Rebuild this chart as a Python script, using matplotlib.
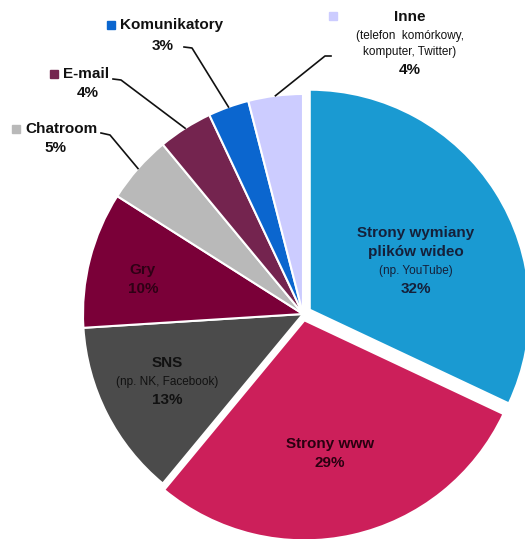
import math
import matplotlib.pyplot as plt

plt.rcParams['font.family'] = ['Liberation Sans', 'DejaVu Sans']

# --- dane ---
categories = ["Strony wymiany\nplików wideo", "Strony www", "SNS", "Gry",
              "Chatroom", "E-mail", "Komunikatory", "Inne"]
subtitles = ["(np. YouTube)", "", "(np. NK, Facebook)", "", "", "", "",
             "(telefon  komórkowy,\nkomputer, Twitter)"]
values = [32, 29, 13, 10, 5, 4, 3, 4]
colors = ["#1a9ad2", "#cc1f5a", "#4b4b4b", "#7a0038",
          "#b9b9b9", "#74244f", "#0b66cf", "#ccccff"]
explode = [8, 6.5, 0, 0, 0, 0, 0, 0]

W, H = 525, 539
cx, cy, R = 303, H - 314, 220

fig = plt.figure(figsize=(W / 100, H / 100), dpi=100)
ax = fig.add_axes([0, 0, 1, 1])

wedges, _ = ax.pie(values, colors=colors, startangle=90, counterclock=False,
                   center=(cx, cy), radius=R, explode=explode,
                   wedgeprops=dict(edgecolor="white", linewidth=1.5))
ax.set_xlim(0, W)
ax.set_ylim(0, H)
ax.set_aspect("equal")
ax.axis("off")

# etykiety wewnątrz wycinków (pozycje w pikselach od góry)
inside = {0: (416, 233), 1: (330, 444), 2: (167, 363), 3: (143, 270)}
txt_col = {0: "#15203a", 1: "#2a0010", 2: "#111111", 3: "#2e0015"}
for i, (x, y) in inside.items():
    name_lines = categories[i].split("\n")
    yy = y
    for line in name_lines:
        ax.text(x, H - yy, line, ha="center", va="center", fontsize=11,
                fontweight="bold", color=txt_col[i])
        yy += 19
    if subtitles[i]:
        ax.text(x, H - yy, subtitles[i], ha="center", va="center",
                fontsize=8.5, color=txt_col[i])
        yy += 18
    ax.text(x, H - yy, f"{values[i]}%", ha="center", va="center",
            fontsize=11, fontweight="bold", color=txt_col[i])

# etykiety zewnętrzne z liniami odniesienia
# (indeks, x nazwy, y nazwy, x procentu, y procentu, punkt załamania linii)
outside = [
    (6, 120, 25, 163, 46, (184, 47), (192, 48)),
    (5, 63, 74, 88, 93, (113, 79), (121, 80)),
    (4, 25, 129, 55, 148, (101, 133), (110, 135)),
]
for i, xn, yn, xp, yp, p1, p2 in outside:
    ax.plot(xn - 9, H - yn, marker="s", markersize=6, color=colors[i])
    ax.text(xn, H - yn, categories[i], ha="left", va="center", fontsize=11,
            fontweight="bold", color="#111111")
    ax.text(xp, H - yp, f"{values[i]}%", ha="center", va="center",
            fontsize=11, fontweight="bold", color="#111111")
    w = wedges[i]
    tm = math.radians((w.theta1 + w.theta2) / 2)
    ex, ey = w.center[0] + w.r * math.cos(tm), w.center[1] + w.r * math.sin(tm)
    ax.plot([p1[0], p2[0], ex], [H - p1[1], H - p2[1], ey],
            color="#111111", linewidth=1.2)

# Inne
i = 7
ax.plot(333, H - 16, marker="s", markersize=6, color=colors[i])
ax.text(410, H - 17, "Inne", ha="center", va="center", fontsize=11,
        fontweight="bold", color="#111111")
ax.text(410, H - 44, subtitles[i], ha="center", va="center", fontsize=8.5,
        color="#111111", linespacing=1.45)
ax.text(410, H - 70, f"{values[i]}%", ha="center", va="center", fontsize=11,
        fontweight="bold", color="#111111")
w = wedges[i]
tm = math.radians((w.theta1 + w.theta2) / 2)
ex, ey = w.center[0] + w.r * math.cos(tm), w.center[1] + w.r * math.sin(tm)
ax.plot([331, 325, ex], [H - 56, H - 56, ey], color="#111111", linewidth=1.2)

fig.savefig("out.png", dpi=100)
